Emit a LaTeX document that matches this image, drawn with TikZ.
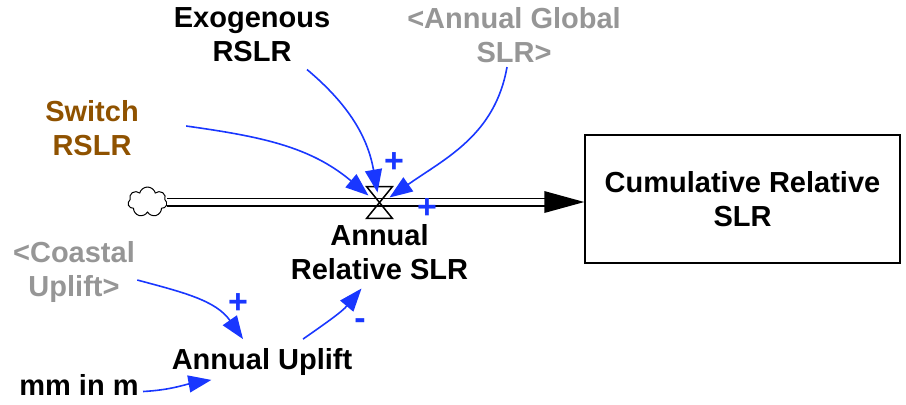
\documentclass[tikz,border=0pt]{standalone}
\usepackage{fontspec}
\setmainfont{Liberation Sans}
\usetikzlibrary{arrows.meta,positioning,calc,shapes.symbols}
\definecolor{linkblue}{RGB}{25,55,255}
\definecolor{shadowgray}{RGB}{150,150,150}
\definecolor{switchbrown}{RGB}{143,82,0}

\begin{document}
\begin{tikzpicture}[x=0.5pt,y=-0.5pt,
    var/.style={align=center,inner sep=2pt,font=\fontsize{14.5}{17}\selectfont\bfseries},
    shadow/.style={var,text=shadowgray},
    link/.style={linkblue,line width=0.8pt,-{Triangle[length=11.5pt,width=8.5pt]}},
    sign/.style={text=linkblue,inner sep=0pt,font=\fontsize{17}{17}\selectfont\bfseries},
    pipe/.style={double,double distance=3pt,line width=0.75pt}]
  \useasboundingbox (0,0) rectangle (906,404);
  \node[var,draw,line width=0.75pt,minimum width=157.5pt,minimum height=64pt] (stock) at (742.5,199) {Cumulative Relative\\SLR};
  \node[cloud,cloud puffs=7,cloud ignores aspect,draw,line width=0.5pt,minimum width=19.5pt,minimum height=15pt,inner sep=0pt] (cloud) at (147.5,202) {};
  \node[minimum width=12.5pt,minimum height=15.5pt,inner sep=0pt] (valve) at (379.5,202.5) {};
  \node[var,below=1pt of valve] (rate) {Annual\\Relative SLR};
  \node[var] (exo) at (252,35) {Exogenous\\RSLR};
  \node[shadow] (global) at (514,35) {<Annual Global\\SLR>};
  \node[var,text=switchbrown] (switch) at (92,128) {Switch\\RSLR};
  \node[shadow] (coastal) at (74,272) {<Coastal\\Uplift>};
  \node[var] (uplift) at (262,362) {Annual Uplift};
  \node[var] (mm) at (79,384.5) {mm in m};

  \draw[pipe] (cloud.east) -- ($(cloud.east -| stock.west)+(-36,0)$);
  \fill ($(cloud.east -| stock.west)+(-40,-11)$) -- (cloud.east -| stock.west) -- ($(cloud.east -| stock.west)+(-40,11)$) -- cycle;
  \draw[line width=0.75pt] (valve.north west) -- (valve.north east) -- (valve.south west) -- (valve.south east) -- cycle;

  \draw[link] ($(exo.south)+(55,3)$) to[out=-40,in=100] ($(valve)+(-2,-10)$);
  \draw[link] ($(global.south)+(-7,0)$) to[out=-100,in=35] ($(valve)+(10,-5)$);
  \draw[link] ($(switch.east)+(43,-2)$) to[out=-8,in=140] ($(valve)+(-11,-7)$);
  \draw[link] ($(coastal.east)+(-2,8)$) to[out=-15,in=125] ($(uplift.north)+(-19,-5)$);
  \draw[link] ($(mm.east)+(0,7)$) to[out=3,in=190] ($(uplift.south west)+(44,0)$);
  \draw[link] ($(uplift.north)+(41,-5)$) to[out=35,in=-130] ($(rate.south)+(-18,4)$);

  \node[sign] (p1) at (394,163) {+};
  \node[sign] (p2) at (427,209) {+};
  \node[sign] (p3) at (238,304) {+};
  \node[sign] (m1) at (360,324) {-};
\end{tikzpicture}
\end{document}
